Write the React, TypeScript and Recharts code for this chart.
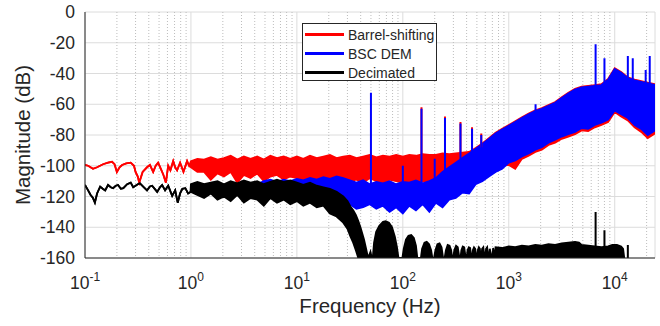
import React from "react";
import {
  Area,
  CartesianGrid,
  ComposedChart,
  Legend,
  Line,
  XAxis,
  YAxis,
} from "recharts";

const FONT = "'Liberation Sans', Arial, Helvetica, sans-serif";
const INK = "#262626";
const GRID = "#dcdcdc";
const FLOOR = -160;

const xDomain = [0.1, 24000];
const yDomain = [-160, 0];
const xTicks = [0.1, 1, 10, 100, 1000, 10000];
const yTicks = [-160, -140, -120, -100, -80, -60, -40, -20, 0];
const minorSteps = [2, 3, 4, 5, 6, 7, 8, 9];
const minorTicks = xTicks
  .flatMap((d) => minorSteps.map((m) => Number((d * m).toPrecision(2))))
  .filter((f) => f < xDomain[1]);

const seriesNames = ["Barrel-shifting", "BSC DEM", "Decimated"];
const seriesColors = ["#ff0000", "#0000ff", "#000000"];

// shared frequency grid for the noisy bands (Hz)
const bandFreq = [
  1, 1.15, 1.33, 1.54, 1.78, 2.05, 2.37, 2.74, 3.16, 3.65, 4.22, 4.87, 5.62, 6.49, 7.5, 8.66,
  10, 11.5, 13.3, 15.4, 17.8, 20.5, 23.7, 27.4, 31.6, 36.5, 42.2, 48.7, 56.2, 64.9, 75, 86.6,
  100, 115, 133, 154, 178, 205, 237, 274, 316, 365, 422, 487, 562, 649, 750, 866,
  1000, 1150, 1330, 1540, 1780, 2050, 2370, 2740, 3160, 3650, 4220, 4870, 5620, 6490, 7500, 8660,
  10000, 11500, 13300, 15400, 17800, 20500, 24000,
];

// Barrel-shifting (red)
const redLineFreq = [
  0.1, 0.107, 0.119, 0.13, 0.148, 0.165, 0.18, 0.19, 0.2, 0.212, 0.224, 0.245, 0.27, 0.29, 0.3,
  0.315, 0.325, 0.35, 0.385, 0.41, 0.44, 0.465, 0.49, 0.52, 0.55, 0.58, 0.61, 0.64, 0.68, 0.71,
  0.74, 0.79, 0.85, 0.92, 0.96,
];
const redLineVal = [
  -99.5, -100, -102, -101, -99, -98, -97.4, -99, -104, -101, -99.5, -98.5, -98, -100, -104,
  -107, -111, -104, -101, -99.5, -104, -100, -98, -102, -106, -111, -100, -103, -97, -101,
  -103, -98, -104, -97, -100,
];
const redHigh = [
  -97, -95.5, -96, -94.5, -96, -95, -93.5, -96, -94, -95.5, -94, -96, -93.5, -95, -94, -95.5,
  -94, -95.5, -93.5, -95, -94, -93, -95, -94, -93.5, -95, -94, -93, -94.5, -93.5, -94, -93,
  -94, -93, -93.5, -92.5, -93, -93, -92, -92.5, -92, -91.5, -91, -88.5, -85.5, -82, -78.5, -76,
  -73.5, -71, -68.5, -66, -64, -62.5, -60.5, -58.5, -55.5, -52.5, -50, -48.5, -48, -47.5, -47, -43.5,
  -36.5, -39, -42.5, -44, -45, -46, -47,
];
const redLow = [
  -101, -104, -104, -109, -105, -107, -104, -111, -106, -108, -105, -110, -107, -106, -109, -107,
  -108, -110, -107, -111, -109, -110, -108, -112, -110, -109, -111, -108, -110, -111, -109, -110,
  -111, -110, -112, -110, -111, -109, -110, -111, -110, -112, -111, -110, -108, -105, -102, -100,
  -99.5, -102, -95.5, -93.5, -91, -89.5, -86.5, -85, -82.5, -81, -79.5, -77, -77.5, -75, -73.5, -71.5,
  -65, -68, -70.5, -75, -78, -82, -79,
];
const redSpikeFreq = [150, 250, 350, 450, 550];
const redSpikeBase = [-95, -94, -93, -91, -88];
const redSpikeTop = [-62, -68, -71.5, -75, -79];

// BSC DEM (blue), band starts at 4.22 Hz
const blueStart = 4.22;
const blueHigh = [
  -112, -110, -109, -110.5, -109, -110,
  -108.5, -109.5, -108, -109, -107.5, -108.5, -107, -108, -109.5, -111, -109.5, -112, -110.5, -111.5, -110, -112,
  -110.5, -111, -109.5, -111.5, -110, -108, -104, -101, -98, -95, -92, -89, -86, -82.5, -79, -76.5,
  -74, -71.5, -69, -66.5, -64.5, -63, -61, -59, -56, -53, -50.5, -49, -48.5, -48, -47.5, -44,
  -37, -39.5, -43, -44.5, -45.5, -46.5, -47.5,
];
const blueLow = [
  -115, -118, -116, -119, -117, -120,
  -118, -121, -119, -122, -120, -123, -124, -126, -125, -128, -127, -125, -128, -126, -130, -127,
  -131, -126, -129, -125, -130, -124, -127, -122, -121, -117.5, -118, -112, -110, -107, -104, -102,
  -98, -96.5, -94, -92, -89.5, -88, -85, -83, -81, -79.5, -78, -75.5, -76, -73.5, -72, -70,
  -64, -66.5, -69, -73.5, -76, -80, -77,
];
const blueSpikeFreq = [50, 100, 150, 200, 250, 350, 450, 550, 650, 1790, 6600, 8000, 13300, 14800, 19600, 21400];
const blueSpikeBase = [-112, -112, -112, -110, -106, -100, -95, -90, -85, -66, -50, -48, -45, -46, -47, -48];
const blueSpikeTop = [-52.5, -100, -63, -95.5, -69, -72.5, -76, -80, -83, -60, -21, -30, -28.6, -30, -37.7, -28.6];

// Decimated (black)
const blackLineFreq = [
  0.1, 0.107, 0.113, 0.119, 0.124, 0.13, 0.139, 0.147, 0.155, 0.165, 0.175, 0.184, 0.195, 0.205,
  0.218, 0.23, 0.25, 0.27, 0.285, 0.3, 0.315, 0.33, 0.36, 0.385, 0.41, 0.43, 0.455, 0.48, 0.51,
  0.535, 0.57, 0.61, 0.665, 0.71, 0.75, 0.79, 0.83, 0.885, 0.94, 0.99,
];
const blackLineVal = [
  -112.5, -116, -119, -121, -124, -118, -113.6, -115, -116, -112.5, -114, -114.6, -113, -112.5,
  -115, -114.6, -112, -111, -114, -113, -112, -111.4, -114, -116, -113.5, -113, -115, -117, -114,
  -112.5, -116, -113, -119.6, -116, -124, -118, -115, -114.6, -118, -117,
];
const blackBandFreq = [
  1, 1.15, 1.33, 1.54, 1.78, 2.05, 2.37, 2.74, 3.16, 3.65, 4.22, 4.87, 5.62, 6.49, 7.5, 8.66,
  10, 11.5, 13.3, 15.4, 17.8, 20.5, 23.7, 27.4, 30, 32, 34, 36, 38, 40, 43, 45, 47,
];
const blackBandHigh = [
  -112, -110.5, -112, -111, -110, -112, -110, -111.5, -109.5, -111, -110, -112, -110.5, -109, -110.5, -109.5,
  -111, -112.5, -111, -113, -114, -115, -117, -120, -123, -126.5, -129, -132, -136, -140.5, -148, -154, -160,
];
const blackBandLow = [
  -117, -119, -121, -118, -122, -120, -123, -119, -124, -121, -122, -126, -121, -124, -122, -125,
  -123, -126, -124, -127, -126, -131, -133, -137, -141, -146, -150, -155, -160, -160, -160, -160, -160,
];
const blackLobeFreq = [
  49.5, 51, 52, 53.5, 56, 60, 65, 69, 74, 79, 84, 88, 91, 99, 102, 107, 113, 120, 127, 133, 137,
  148, 152, 160, 168, 177, 185, 190, 197, 203, 212, 222, 232, 240, 248, 255, 265, 276, 286, 292,
  299, 306, 318, 330, 342, 350, 357, 368, 380, 392, 400, 408, 420, 432, 442, 450, 458, 470, 482,
  492, 500, 510, 522, 534, 542, 550, 560, 575, 592, 600, 610, 625, 642, 650, 662, 690, 700, 712, 740,
];
const blackLobeTop = [
  -156, -160, -160, -150, -143, -139, -136.5, -136, -137, -140, -146, -153, -160, -160, -154, -148,
  -145.5, -145, -147, -152, -160, -160, -154, -150, -149.5, -151, -155, -160, -160, -155, -151,
  -150.5, -153, -160, -160, -155, -151.5, -152, -155, -160, -160, -155, -152, -153, -160, -160,
  -155, -152.5, -153, -160, -160, -155, -153, -153.5, -160, -160, -155, -153, -154, -160, -160,
  -155, -153, -154, -160, -160, -154, -153, -160, -160, -154, -153, -160, -160, -154, -160, -160,
  -153.5, -160,
];
const blackFloorFreq = [
  750, 866, 1000, 1150, 1330, 1540, 1780, 2050, 2370, 2740, 3160, 3650, 4220, 4600, 4870, 5620,
  6490, 7500, 8660, 9500, 10500, 11500, 12000, 12300,
];
const blackFloorTop = [
  -153, -153.5, -152.5, -153, -152, -152.5, -151.5, -152, -151, -151.5, -150.5, -150, -149.5, -150,
  -151.5, -152, -152.5, -153, -152.5, -151.5, -151.5, -152.5, -154, -160,
];
const blackSpikeFreq = [6600, 8000, 13300];
const blackSpikeBase = [-153, -153, -160];
const blackSpikeTop = [-130, -142, -151.5];

const toLine = (freq: number[], val: number[]) => freq.map((f, i) => ({ f, range: [val[i], val[i]] }));
const toBand = (freq: number[], lo: number[], hi: number[]) =>
  freq.map((f, i) => ({ f, range: [lo[i], hi[i]] }));
const toSpikes = (freq: number[], base: number[], top: number[]) =>
  freq.flatMap((f, i) => [
    { f, v: base[i] },
    { f, v: top[i] },
    { f, v: null },
  ]);

const redData = [...toLine(redLineFreq, redLineVal), ...toBand(bandFreq, redLow, redHigh)];
const blueData = toBand(bandFreq.slice(bandFreq.indexOf(blueStart)), blueLow, blueHigh);
const blackData = [
  ...toLine(blackLineFreq, blackLineVal),
  ...toBand(blackBandFreq, blackBandLow, blackBandHigh),
  ...toBand(blackLobeFreq, blackLobeFreq.map(() => FLOOR), blackLobeTop),
  ...toBand(blackFloorFreq, blackFloorFreq.map(() => FLOOR), blackFloorTop),
];

// pixel x of the minor (2..9) grid lines, from the log x scale
const minorGridX = ({ xAxis, offset }: any) => {
  if (xAxis && typeof xAxis.scale === "function") return minorTicks.map((f) => xAxis.scale(f));
  const span = Math.log10(xDomain[1] / xDomain[0]);
  return minorTicks.map((f) => offset.left + (offset.width * Math.log10(f / xDomain[0])) / span);
};

function DecadeTick({ x, y, payload }: any) {
  const exp = Math.round(Math.log10(payload.value));
  return (
    <text x={x} y={y + 23} textAnchor="middle" fill={INK} fontFamily={FONT} fontSize={17.5}>
      <tspan>10</tspan>
      <tspan dy={-8} fontSize={12}>
        {exp}
      </tspan>
    </text>
  );
}

function LegendBox() {
  return (
    <div
      style={{
        width: 135,
        height: 58,
        boxSizing: "border-box",
        border: `1px solid ${INK}`,
        background: "#fff",
        padding: "1px 0 0 2px",
        fontFamily: FONT,
        fontSize: 14,
        color: INK,
      }}
    >
      {seriesNames.map((name, i) => (
        <div key={name} style={{ display: "flex", alignItems: "center", height: 19 }}>
          <span style={{ width: 39, height: 2.5, background: seriesColors[i], marginRight: 4 }} />
          <span>{name}</span>
        </div>
      ))}
    </div>
  );
}

const bandProps = {
  type: "linear" as const,
  dataKey: "range",
  strokeWidth: 1.8,
  fillOpacity: 1,
  dot: false,
  activeDot: false,
  isAnimationActive: false,
  legendType: "none" as const,
};

const spikeProps = {
  type: "linear" as const,
  dataKey: "v",
  strokeWidth: 2,
  dot: false,
  activeDot: false,
  connectNulls: false,
  isAnimationActive: false,
  legendType: "none" as const,
};

const logAxis = {
  type: "number" as const,
  dataKey: "f",
  scale: "log" as const,
  domain: xDomain,
  allowDataOverflow: true,
};

export default function App() {
  return (
    <div style={{ position: "absolute", left: 0, top: 0, width: 660, height: 326, background: "#fff" }}>
      <ComposedChart width={660} height={326} margin={{ top: 12, right: 5, bottom: 0, left: 0 }}>
        {/* inward tick marks on all four sides of the box */}
        <XAxis {...logAxis} xAxisId="topMajor" orientation="top" mirror height={0} ticks={xTicks} interval={0}
          tick={false} tickSize={5} axisLine={{ stroke: INK }} tickLine={{ stroke: INK }} />
        <XAxis {...logAxis} xAxisId="topMinor" orientation="top" mirror height={0} ticks={minorTicks} interval={0}
          tick={false} tickSize={3} axisLine={false} tickLine={{ stroke: INK }} />
        <XAxis {...logAxis} xAxisId="botMajor" orientation="bottom" mirror height={0} ticks={xTicks} interval={0}
          tick={false} tickSize={5} axisLine={false} tickLine={{ stroke: INK }} />
        <XAxis {...logAxis} xAxisId="botMinor" orientation="bottom" mirror height={0} ticks={minorTicks} interval={0}
          tick={false} tickSize={3} axisLine={false} tickLine={{ stroke: INK }} />
        <YAxis yAxisId="rightIn" orientation="right" type="number" domain={yDomain} allowDataOverflow mirror width={0}
          ticks={yTicks} interval={0} tick={false} tickSize={5} axisLine={{ stroke: INK }} tickLine={{ stroke: INK }} />
        <YAxis yAxisId="leftIn" orientation="left" type="number" domain={yDomain} allowDataOverflow mirror width={0}
          ticks={yTicks} interval={0} tick={false} tickSize={5} axisLine={false} tickLine={{ stroke: INK }} />

        <XAxis
          {...logAxis}
          ticks={xTicks}
          interval={0}
          height={68}
          tickLine={false}
          axisLine={{ stroke: INK }}
          tick={<DecadeTick />}
          label={{
            content: ({ viewBox }: any) => (
              <text x={viewBox.x + viewBox.width / 2} y={viewBox.y + 55} textAnchor="middle"
                fill={INK} fontFamily={FONT} fontSize={20.5}>
                Frequency (Hz)
              </text>
            ),
          }}
        />
        <YAxis
          type="number"
          domain={yDomain}
          allowDataOverflow
          ticks={yTicks}
          interval={0}
          width={85}
          tickLine={false}
          tickMargin={4}
          axisLine={{ stroke: INK }}
          tick={{ fill: INK, fontSize: 17.5, fontFamily: FONT }}
          label={{
            content: ({ viewBox }: any) => {
              const cx = viewBox.x + 30;
              const cy = viewBox.y + viewBox.height / 2;
              return (
                <text x={cx} y={cy} transform={`rotate(-90 ${cx} ${cy})`} textAnchor="middle"
                  fill={INK} fontFamily={FONT} fontSize={20.5}>
                  Magnitude (dB)
                </text>
              );
            },
          }}
        />

        <CartesianGrid stroke={GRID} strokeWidth={1} />
        <CartesianGrid horizontal={false} stroke="#bdbdbd" strokeDasharray="1 2"
          verticalCoordinatesGenerator={minorGridX} />

        <Area {...bandProps} data={redData} stroke={seriesColors[0]} fill={seriesColors[0]} />
        <Line {...spikeProps} data={toSpikes(redSpikeFreq, redSpikeBase, redSpikeTop)} stroke={seriesColors[0]} />
        <Area {...bandProps} data={blueData} stroke={seriesColors[1]} fill={seriesColors[1]} />
        <Line {...spikeProps} data={toSpikes(blueSpikeFreq, blueSpikeBase, blueSpikeTop)} stroke={seriesColors[1]} />
        <Area {...bandProps} data={blackData} stroke={seriesColors[2]} fill={seriesColors[2]} />
        <Line {...spikeProps} data={toSpikes(blackSpikeFreq, blackSpikeBase, blackSpikeTop)} stroke={seriesColors[2]} />

        <Legend
          verticalAlign="middle"
          align="center"
          layout="horizontal"
          content={() => <LegendBox />}
          wrapperStyle={{ left: 302, top: 23, width: 135, height: 58 }}
        />
      </ComposedChart>
    </div>
  );
}
